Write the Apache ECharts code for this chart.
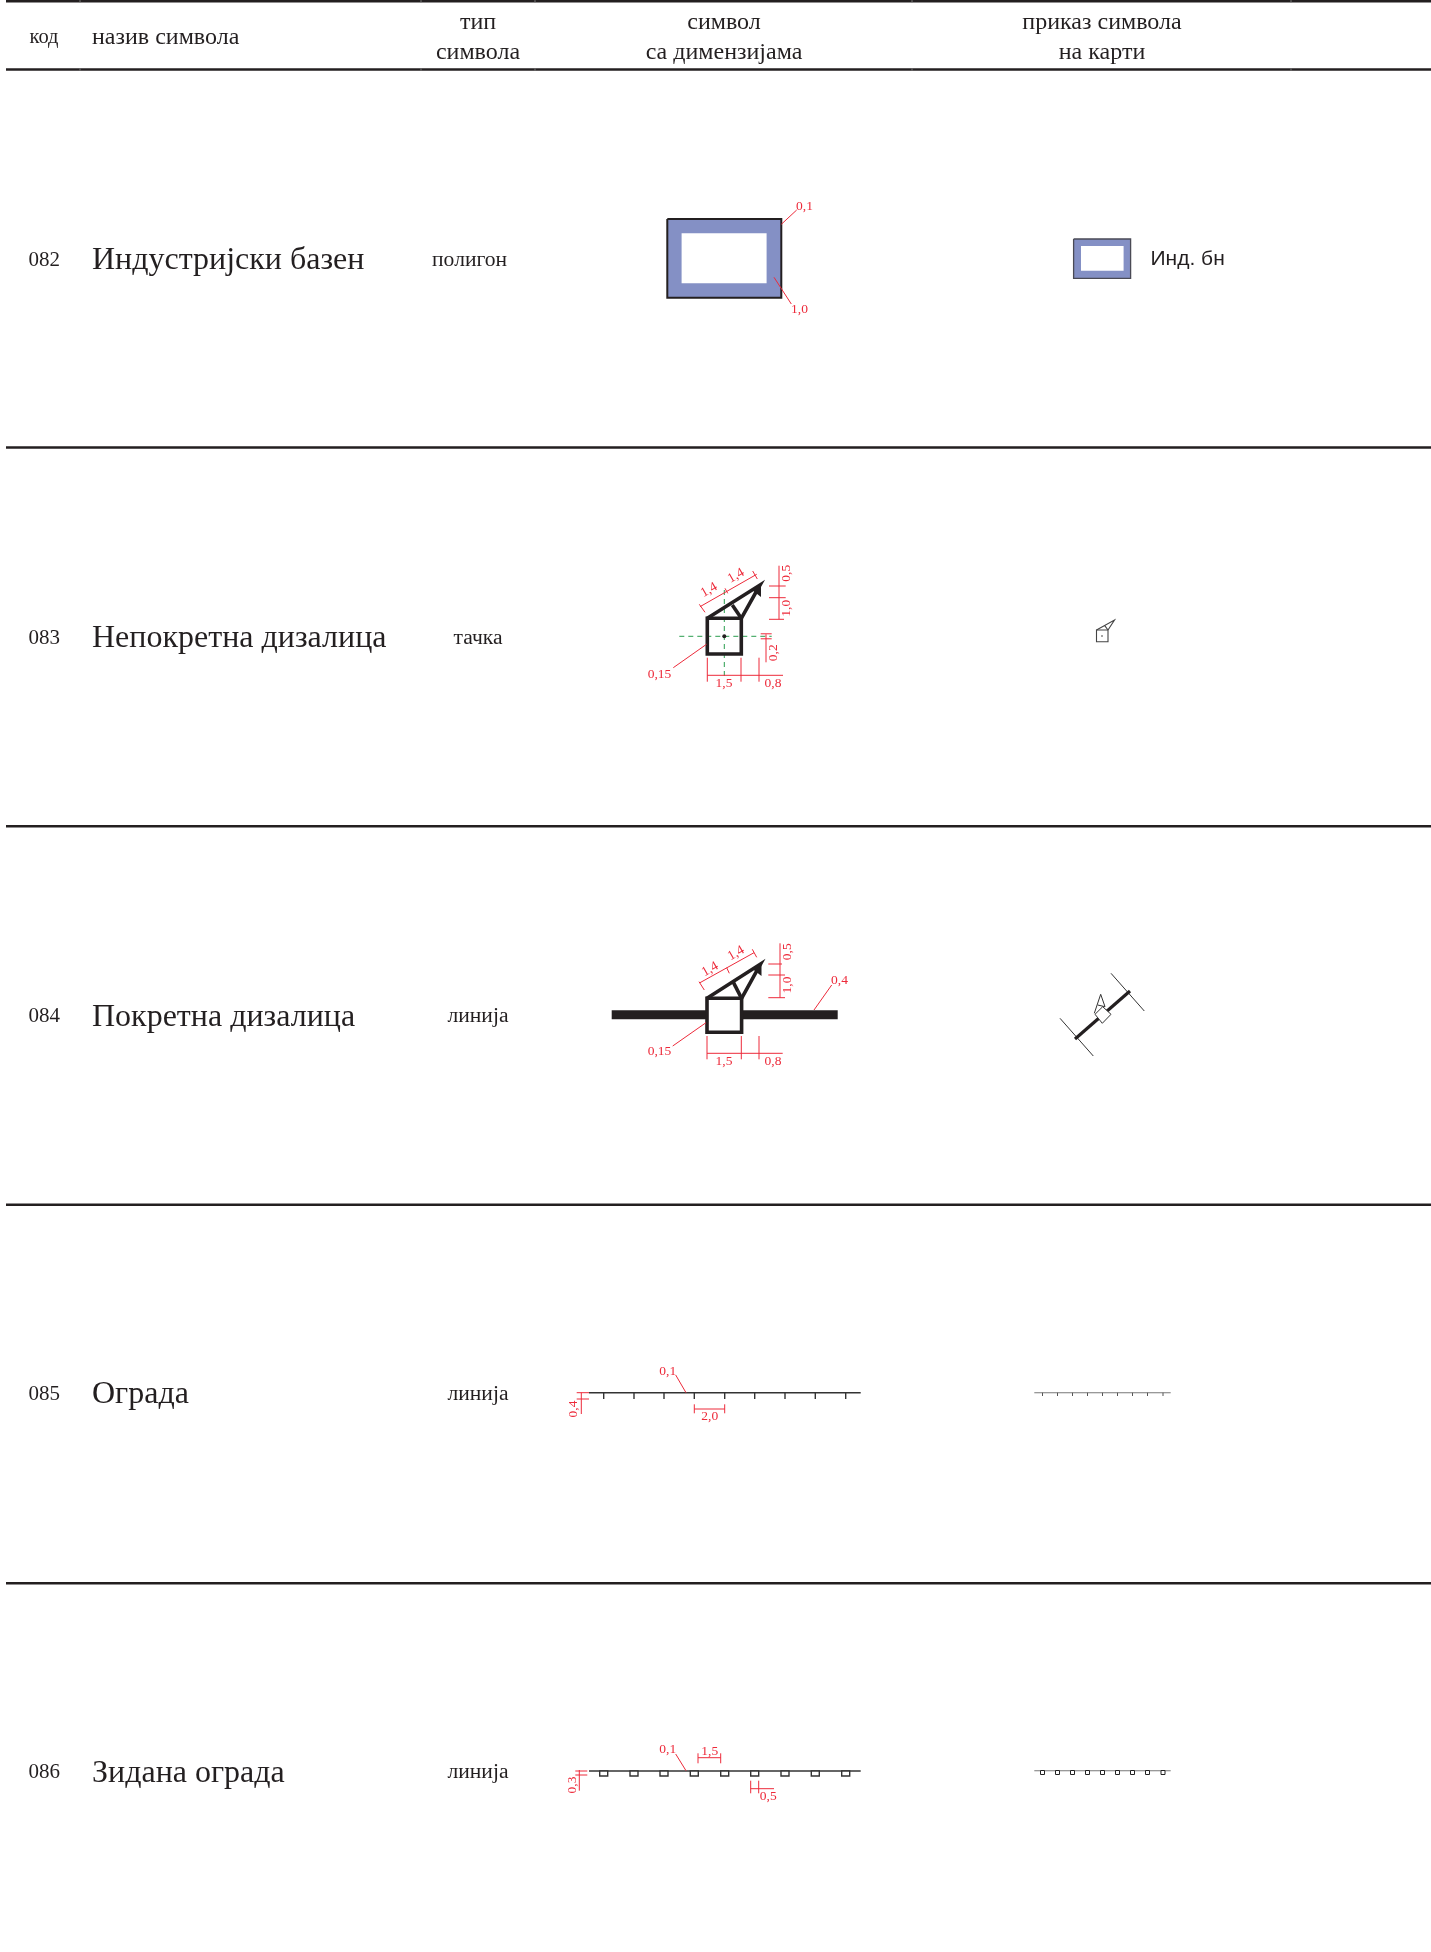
<!DOCTYPE html>
<html style="height: 100%">
<head>
<meta charset="utf-8">
</head>
<body style="height: 100%; margin: 0; background: #fff">
<div id="container" style="height: 100%"></div>
<script type="text/javascript" src="https://cdn.jsdelivr.net/npm/echarts@6/dist/echarts.min.js"></script>
<script type="text/javascript">
// table content
var rowCodes = ['082', '083', '084', '085', '086'];
var rowNames = ['Индустријски базен', 'Непокретна дизалица', 'Покретна дизалица', 'Ограда', 'Зидана ограда'];
var rowKinds = ['полигон', 'тачка', 'линија', 'линија', 'линија'];
var kindCentres = [469.6, 478, 478, 478, 478];
var rowCentres = [260.5, 639, 1017.5, 1395, 1773.5];
var smallTextCentres = [260, 638.2, 1016.6, 1394.2, 1772.7];
var ruleLevels = [1.3, 69.5, 447.5, 826.3, 1204.7, 1583.2];
var ruleJoints = [80, 421, 535, 912, 1291];
var codeHeader = [['код', 44, 38]];
var headerCells = [
    ['назив символа', 92, 38, 'left'],
    ['тип', 478, 23], ['символа', 478, 52.5],
    ['символ', 724, 23], ['са димензијама', 724, 52.5],
    ['приказ символа', 1102, 23], ['на карти', 1102, 52.5]
];

// symbol geometry, in page units of the hidden axes
var basinFill = [[667.3, 219, 781.3, 219, 781.3, 297.7, 667.3, 297.7], [1073.6, 239, 1130.6, 239, 1130.6, 278.3, 1073.6, 278.3]];
var basinHole = [[681.6, 233.3, 766.6, 233.3, 766.6, 283.3, 681.6, 283.3], [1081, 246, 1123.6, 246, 1123.6, 270.7, 1081, 270.7]];
var basinEdge = [[667.3, 219, 781.3, 219, 781.3, 297.7, 667.3, 297.7, 667.3, 219]];
var mapBasinEdge = [[1073.6, 239, 1130.6, 239, 1130.6, 278.3, 1073.6, 278.3, 1073.6, 239]];
var railBar = [[611.7, 1014.8, 837.7, 1014.8]];
var craneBody = [[707.3, 618.3, 741.3, 618.3, 741.3, 654, 707.3, 654], [707, 998.3, 741.6, 998.3, 741.6, 1032.3, 707, 1032.3]];
var craneArms = [
    [707.3, 618.3, 760, 585, 741.3, 618.3], [732.3, 605, 741.3, 618.3],
    [707, 998.3, 760.5, 964, 741.6, 998.3], [733, 981.7, 741.6, 998.3]
];
var craneHeads = [[761, 584, 761, 597, 752, 590], [761.5, 963, 761.5, 976, 752.5, 969]];
var centreDots = [[724.3, 636.3]];
var axisDashes = [[679.3, 636.3, 771.7, 636.3], [724.3, 590, 724.3, 680]];
var fenceLines = [[589, 1392.7, 860.7, 1392.7], [589, 1771, 860.7, 1771]];
var fenceSpots = [603.7, 634, 664, 694.3, 724.7, 754.7, 785, 815.3, 845.7];
var mapFenceLines = [[1034.3, 1392.7, 1170.7, 1392.7], [1034.3, 1770.7, 1170.7, 1770.7]];
var mapFenceSpots = [1042.5, 1057.5, 1072.5, 1087.5, 1102.5, 1117.5, 1132.5, 1147.5, 1163];
var fenceTickRow = [1392.7, 1399];
var wallBlockRow = [1771, 1776];
var mapTickRow = [1392.7, 1396];
var mapBlockRow = [1770.5, 1774.5];

// small crane drawings in the map column
var mapCraneBody = [[1096.5, 630, 1108, 630, 1108, 641.7, 1096.5, 641.7]];
var mapCraneArms = [[1096.5, 630, 1114.5, 620, 1108, 630], [1104.7, 625.7, 1108, 630]];
var mapCraneDots = [[1102, 636]];
var mapRailBar = [[1075, 1039, 1130, 991]];
var mapRailEnds = [[1060, 1018.3, 1093.3, 1056], [1111, 973.3, 1144.3, 1011]];
var mapRailBody = [[1102.7, 1006.7, 1111, 1014.3, 1102.3, 1023.3, 1095, 1014.3]];
var mapRailArms = [[1094.3, 1013.3, 1100.7, 994.3, 1105, 1006.7], [1097.7, 1005, 1105, 1006.7]];
var mapBasinName = [['Инд. бн', 1150.5, 259]];

// red dimension lines
var dimensionLines = [
    [781.3, 224.3, 796.7, 210], [774, 277.3, 791.3, 304],
    [700, 606.7, 756.7, 574.3], [699.3, 604.3, 705, 612.3], [725, 588.3, 727.7, 593.3], [752.7, 571, 757.3, 579],
    [779, 565.7, 779, 619.3], [769, 586, 785.7, 586], [769, 597.7, 785.7, 597.7], [769, 619.3, 784, 619.3],
    [766, 634.3, 766, 662.3], [760.7, 633.8, 771.7, 633.8], [760.7, 638.8, 771.7, 638.8],
    [707.3, 657.7, 707.3, 681.7], [741, 657.7, 741, 681.7], [759, 657.7, 759, 681.7], [707.3, 675.3, 783, 675.3],
    [706.5, 644.3, 673.3, 667.7],
    [700, 982.7, 754, 952.7], [699, 981.7, 704.3, 990], [726.7, 967.7, 729.3, 973.3], [752.3, 949.3, 756.7, 957.3],
    [780, 943.3, 780, 997.7], [768.3, 964, 782, 964], [768.3, 975, 785, 975], [768.3, 997.7, 785, 997.7],
    [814, 1010, 831.7, 985], [706, 1022.7, 672.7, 1046],
    [707, 1036, 707, 1059.3], [741.3, 1036, 741.3, 1059.3], [759, 1036, 759, 1059.3], [707, 1053.3, 782.7, 1053.3],
    [675.7, 1375, 686, 1392.7], [694.3, 1404.3, 694.3, 1413.3], [724.7, 1404.3, 724.7, 1413.3], [694.3, 1409, 724.7, 1409],
    [581.3, 1392.7, 581.3, 1414], [576.7, 1392.7, 589, 1392.7], [576.7, 1399, 589, 1399],
    [675.7, 1754, 686, 1770.7], [698, 1753.3, 698, 1763.3], [720.7, 1753.3, 720.7, 1763.3], [698, 1757.7, 720.7, 1757.7],
    [750.7, 1780.7, 750.7, 1793.3], [758.7, 1780.7, 758.7, 1793.3], [750.7, 1788.7, 774, 1788.7],
    [579.3, 1770, 579.3, 1790.7], [575.3, 1771, 587.3, 1771], [575.3, 1775, 587.3, 1775]
];
var flatDimensions = [
    ['0,1', 804.5, 206.5], ['1,0', 799.5, 309.5],
    ['0,15', 659.5, 674], ['1,5', 724, 683], ['0,8', 773, 683],
    ['0,4', 839.5, 980.5], ['0,15', 659.5, 1051.5], ['1,5', 724, 1061.5], ['0,8', 773, 1061.5],
    ['0,1', 667.7, 1371], ['2,0', 709.7, 1416.5],
    ['0,1', 667.7, 1749], ['1,5', 709.7, 1751], ['0,5', 768.3, 1796.5]
];
var uprightDimensions = [
    ['0,5', 786, 573.3], ['1,0', 786, 608.3], ['0,2', 773.3, 652.7],
    ['0,5', 787.3, 951.7], ['1,0', 787.3, 985],
    ['0,4', 573.3, 1409], ['0,3', 572.7, 1785]
];
var slantDimensions = [
    ['1,4', 709, 590], ['1,4', 736, 575.7],
    ['1,4', 710, 969.3], ['1,4', 736, 953.3]
];

var INK = '#231f20';
var RED = '#ed2a3a';
var SERIF = '"Liberation Serif"';

function spotSegments(spots, row) {
    return spots.map(function (x) { return [x, row[0], x, row[1]]; });
}
function spotBoxes(spots, row, width) {
    return spots.map(function (x) {
        return [x - width / 2, row[0], x + width / 2, row[0], x + width / 2, row[1], x - width / 2, row[1]];
    });
}
function pagePoints(api, flat) {
    var pts = [];
    for (var i = 0; i < flat.length; i += 2) {
        pts.push(api.coord([flat[i], flat[i + 1]]));
    }
    return pts;
}

// every shape goes through the axes: one custom series per drawing style
function shapes(list, style, closed) {
    return {
        type: 'custom',
        coordinateSystem: 'cartesian2d',
        silent: true,
        clip: false,
        data: list.map(function (d) { return [d[0], d[1]]; }),
        renderItem: function (params, api) {
            return {
                type: closed ? 'polygon' : 'polyline',
                shape: { points: pagePoints(api, list[params.dataIndex]) },
                style: style
            };
        }
    };
}
function texts(list, font, fill, align, rotation) {
    return {
        type: 'custom',
        coordinateSystem: 'cartesian2d',
        silent: true,
        clip: false,
        data: list.map(function (d) { return [d[1], d[2]]; }),
        renderItem: function (params, api) {
            var d = list[params.dataIndex];
            var p = api.coord([d[1], d[2]]);
            return {
                type: 'text',
                x: p[0],
                y: p[1],
                rotation: rotation || 0,
                style: { text: d[0], font: font, fill: fill, align: d[3] || align, verticalAlign: 'middle' }
            };
        }
    };
}
function dots(list, radius, fill) {
    return {
        type: 'scatter',
        silent: true,
        symbol: 'circle',
        symbolSize: radius * 2,
        itemStyle: { color: fill, opacity: 1 },
        data: list
    };
}
function line(color, width, dash) {
    return { fill: null, stroke: color, lineWidth: width, lineDash: dash || null, lineCap: 'butt', lineJoin: 'miter' };
}
function fill(color, edge, width) {
    return { fill: color, stroke: edge || null, lineWidth: width || 0, lineJoin: 'miter' };
}

var rules = ruleLevels.map(function (y) { return [6, y, 1431, y]; });
var joints = [];
ruleLevels.slice(0, 2).forEach(function (y) {
    ruleJoints.forEach(function (x) { joints.push([x, y - 1.2, x, y + 1.2]); });
});

var option = {
    animation: false,
    backgroundColor: '#fff',
    grid: { left: 0, right: 0, top: 0, bottom: 0 },
    xAxis: { type: 'value', min: 0, max: 1431, show: false },
    yAxis: { type: 'value', min: 0, max: 1952, inverse: true, show: false },
    series: [
        shapes(rules, line(INK, 2.4)),
        shapes(joints, line('#777', 1)),
        shapes(basinFill, fill('#8490c5'), true),
        shapes(basinHole, fill('#fff'), true),
        shapes(basinEdge, line(INK, 2)),
        shapes(mapBasinEdge, line('#4a4a55', 1.3)),
        shapes(railBar, line(INK, 9)),
        shapes(axisDashes, line('#2a9d4e', 1, [5, 4])),
        shapes(craneBody.slice(1), fill('#fff'), true),
        shapes(craneBody, fill('rgba(255,255,255,0)', INK, 3.6), true),
        shapes(craneArms, line(INK, 3.6)),
        shapes(craneHeads, fill(INK), true),
        dots(centreDots, 2, INK),
        shapes(fenceLines, line('#333', 1.4)),
        shapes(spotSegments(fenceSpots, fenceTickRow), line('#333', 1.4)),
        shapes(spotBoxes(fenceSpots, wallBlockRow, 8), fill('#fff', '#333', 1.4), true),
        shapes(mapFenceLines, line('#777', 1.1)),
        shapes(spotSegments(mapFenceSpots, mapTickRow), line('#555', 1)),
        shapes(spotBoxes(mapFenceSpots, mapBlockRow, 4), fill('#fff', '#222', 1), true),
        shapes(mapCraneBody, fill('#fff', '#444', 1.1), true),
        shapes(mapCraneArms, line('#444', 1.1)),
        dots(mapCraneDots, 0.8, '#333'),
        shapes(mapRailEnds, line('#333', 1)),
        shapes(mapRailBar, line(INK, 3.2)),
        shapes(mapRailBody, fill('#fff', '#333', 1), true),
        shapes(mapRailArms, line('#333', 1)),
        shapes(dimensionLines, line(RED, 1)),
        texts(codeHeader, '20.5px ' + SERIF, INK, 'center'),
        texts(headerCells, '24px ' + SERIF, INK, 'center'),
        texts(rowCodes.map(function (c, i) { return [c, 28.6, smallTextCentres[i]]; }), '21px ' + SERIF, INK, 'left'),
        texts(rowNames.map(function (c, i) { return [c, 92, rowCentres[i]]; }), '32px ' + SERIF, INK, 'left'),
        texts(rowKinds.map(function (c, i) { return [c, kindCentres[i], smallTextCentres[i]]; }), '21.6px ' + SERIF, INK, 'center'),
        texts(mapBasinName, '21px "Liberation Sans"', INK, 'left'),
        texts(flatDimensions, '13.5px ' + SERIF, RED, 'center'),
        texts(uprightDimensions, '13.5px ' + SERIF, RED, 'center', Math.PI / 2),
        texts(slantDimensions, '13.5px ' + SERIF, RED, 'center', Math.PI / 6)
    ]
};

var myChart = echarts.init(document.getElementById('container'));
myChart.setOption(option);
</script>
</body>
</html>
